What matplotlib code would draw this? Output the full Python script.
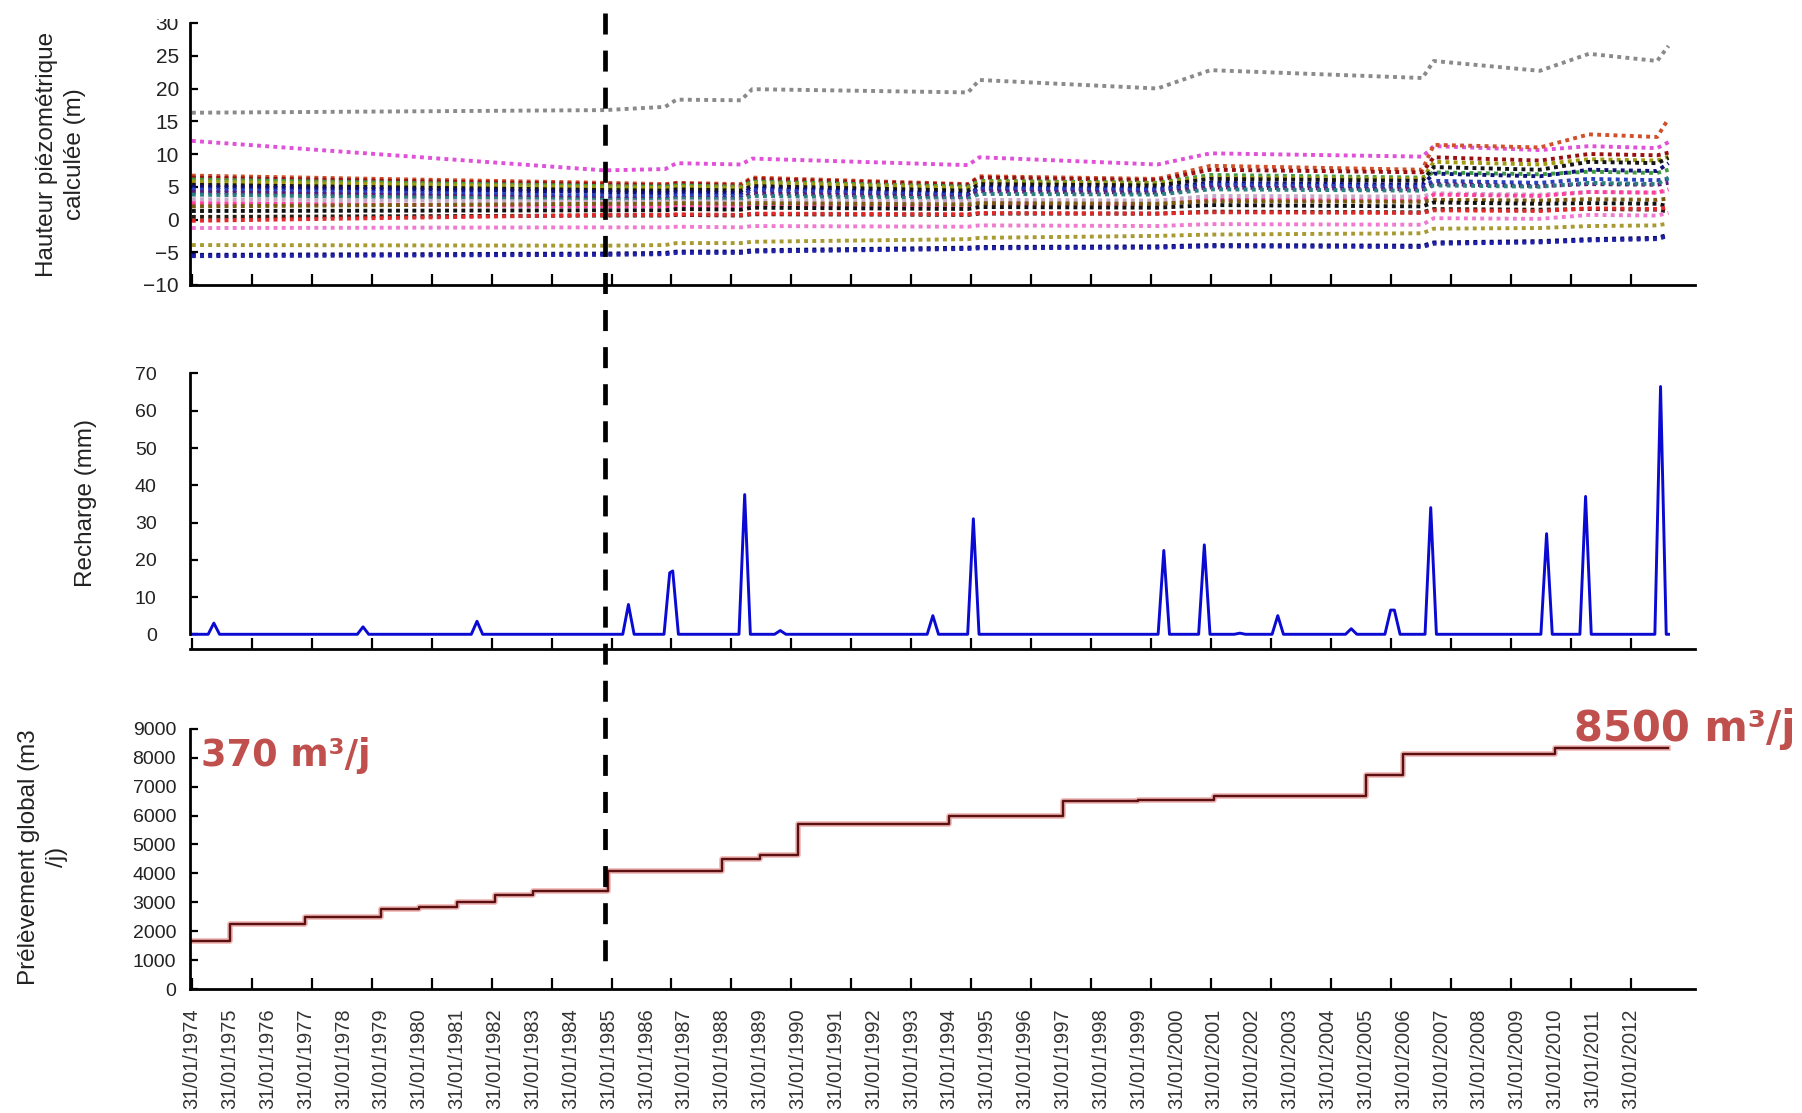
import numpy as np
import matplotlib
matplotlib.use("Agg")
import matplotlib.pyplot as plt
from matplotlib.lines import Line2D
from matplotlib.patches import Rectangle

plt.rcParams['font.family'] = ['Liberation Sans', 'DejaVu Sans']

# ---------------------------------------------------------------------------
# Time axis: years elapsed since 31/01/1974
# ---------------------------------------------------------------------------
label_years = list(range(1974, 2013))
date_labels = [f"31/01/{y}" for y in label_years]

# ---------------------------------------------------------------------------
# Computed piezometric heads (m) at the break dates of each simulation period
# ---------------------------------------------------------------------------
head_years = [0, 10.9, 12.5, 12.8, 14.5, 14.8, 20.5, 20.8, 25.5, 26.9,
              32.5, 32.8, 35.6, 36.9, 38.7, 39.0]

pz_gray    = [16.3, 16.7, 17.2, 18.3, 18.2, 19.9, 19.4, 21.3, 20.0, 22.8, 21.6, 24.2, 22.7, 25.3, 24.2, 26.5]
pz_magenta = [12.0, 7.5, 7.7, 8.6, 8.4, 9.3, 8.3, 9.5, 8.4, 10.1, 9.6, 11.2, 10.6, 11.2, 10.9, 11.8]
pz_orange  = [6.7, 5.6, 5.4, 5.6, 5.4, 6.4, 5.4, 6.6, 6.2, 8.2, 7.6, 11.4, 11.0, 13.0, 12.6, 15.4]
pz_darkred = [6.4, 5.4, 5.2, 5.5, 5.2, 6.2, 5.3, 6.4, 6.0, 7.6, 7.2, 9.5, 9.0, 10.0, 9.8, 10.2]
pz_green   = [6.1, 5.1, 5.0, 5.2, 5.0, 5.8, 5.0, 5.9, 5.6, 6.8, 6.4, 7.2, 6.9, 7.3, 7.1, 7.6]
pz_olive   = [5.8, 4.9, 4.8, 5.0, 4.8, 5.6, 4.8, 5.7, 5.5, 6.4, 6.2, 8.8, 8.4, 9.2, 9.0, 9.6]
pz_black1  = [5.3, 4.5, 4.4, 4.6, 4.4, 5.1, 4.4, 5.4, 5.2, 6.2, 5.9, 8.0, 7.6, 8.8, 8.6, 9.4]
pz_navy1   = [5.0, 4.2, 4.0, 4.2, 4.0, 4.8, 3.9, 4.9, 4.7, 5.6, 5.3, 7.0, 6.6, 7.6, 7.4, 8.6]
pz_blue1   = [4.6, 3.6, 3.5, 3.7, 3.6, 4.5, 3.7, 4.7, 4.5, 5.3, 5.0, 5.9, 5.6, 6.2, 6.0, 6.2]
pz_purple  = [4.2, 3.2, 3.1, 3.3, 3.2, 4.0, 3.4, 4.3, 4.1, 4.9, 4.6, 5.4, 5.1, 5.4, 5.3, 5.6]
pz_teal    = [3.8, 3.0, 3.0, 3.2, 3.1, 3.6, 3.2, 3.9, 3.8, 4.6, 4.4, 5.2, 5.0, 5.6, 5.4, 6.4]
pz_lilac   = [3.1, 2.7, 2.7, 2.8, 2.7, 2.9, 2.8, 3.0, 2.9, 3.6, 3.5, 4.0, 3.8, 4.2, 4.1, 4.4]
pz_pink    = [2.5, 2.0, 2.0, 2.1, 2.0, 2.2, 2.1, 2.4, 2.3, 3.0, 2.9, 3.8, 3.6, 4.2, 4.1, 4.6]
pz_brown   = [2.0, 2.4, 2.4, 2.5, 2.4, 2.5, 2.3, 2.5, 2.4, 2.8, 2.7, 3.0, 2.9, 3.1, 3.0, 3.2]
pz_black2  = [1.3, 1.4, 1.4, 1.6, 1.5, 1.8, 1.6, 1.9, 1.8, 2.2, 2.0, 2.6, 2.4, 2.5, 2.4, 2.0]
pz_black3  = [0.4, 0.6, 0.6, 0.7, 0.6, 0.8, 0.7, 0.9, 0.9, 1.2, 1.1, 1.6, 1.5, 1.6, 1.5, 1.2]
pz_red     = [-0.2, 0.7, 0.7, 0.8, 0.7, 0.9, 0.8, 1.0, 0.9, 1.1, 1.0, 1.4, 1.3, 1.7, 1.6, 1.9]
pz_rose    = [-1.3, -1.2, -1.2, -1.1, -1.2, -1.0, -1.1, -0.9, -1.0, -0.7, -0.8, 0.2, 0.1, 0.7, 0.6, 1.0]
pz_yellow  = [-3.9, -4.0, -3.9, -3.6, -3.6, -3.4, -3.0, -2.8, -2.5, -2.3, -2.1, -1.4, -1.3, -1.0, -0.9, -0.6]
pz_navy2   = [-5.4, -5.2, -5.1, -4.9, -4.9, -4.7, -4.3, -4.2, -4.1, -3.9, -4.0, -3.5, -3.3, -3.0, -2.8, -2.3]
pz_blue2   = [-5.6, -5.4, -5.3, -5.1, -5.1, -4.9, -4.5, -4.4, -4.3, -4.1, -4.2, -3.7, -3.5, -3.2, -3.0, -2.5]

head_series = [
    (pz_gray, '#8a8a8a'), (pz_magenta, '#e050d8'), (pz_orange, '#d0502a'),
    (pz_darkred, '#9a1010'), (pz_green, '#3f9a3f'), (pz_olive, '#a09a10'),
    (pz_black1, '#151515'), (pz_navy1, '#10107a'), (pz_blue1, '#2840c0'),
    (pz_purple, '#5a1a7a'), (pz_teal, '#2a7f80'), (pz_lilac, '#c8a8c8'),
    (pz_pink, '#ff3fa0'), (pz_brown, '#7a5a10'), (pz_black2, '#101010'),
    (pz_black3, '#2a1a10'), (pz_red, '#e02828'), (pz_rose, '#f07ad0'),
    (pz_yellow, '#a89a30'), (pz_navy2, '#0a0a6a'), (pz_blue2, '#2020a8'),
]

# ---------------------------------------------------------------------------
# Recharge events (mm): peak date (years since 1974) and peak value
# ---------------------------------------------------------------------------
recharge_years = [0.58, 4.52, 7.53, 11.53, 12.62, 12.70, 14.60, 15.54, 19.57,
                  20.64, 25.67, 26.74, 27.68, 28.68, 30.62, 31.66, 31.76,
                  32.72, 35.78, 36.81, 38.79]
recharge_mm = [3, 2, 3.5, 8, 16.5, 17, 37.5, 1, 5, 31, 22.5, 24, 0.3, 5, 1.5,
               6.5, 6.5, 34, 27, 37, 66.5]
series_end = 39.0

# ---------------------------------------------------------------------------
# Global abstraction (m3/j): value taken from each change date onwards
# ---------------------------------------------------------------------------
pump_years = [0, 1, 3, 5, 6, 7, 8, 9, 11, 14, 15, 16, 20, 23, 25, 27, 31, 32, 36, 39]
pump_m3 = [1680, 2250, 2500, 2780, 2840, 3000, 3260, 3410, 4070, 4490, 4650,
           5700, 5980, 6500, 6540, 6660, 7400, 8110, 8330, 8330]

# ---------------------------------------------------------------------------
# Figure and axes
# ---------------------------------------------------------------------------
FW, FH = 1802, 1113
fig = plt.figure(figsize=(FW / 100, FH / 100), dpi=100)
fig.patch.set_facecolor('white')

left = 190 / FW
width = 1505 / FW
ax1 = fig.add_axes([left, 1 - 285 / FH, width, 262 / FH])
ax2 = fig.add_axes([left, 1 - 649 / FH, width, 275.5 / FH])
ax3 = fig.add_axes([left, 1 - 989.3 / FH, width, 260.7 / FH])

XMIN, XMAX = -0.05, 39.7
tick_step = 19 / 12
tick_pos = np.arange(0, 38.01, tick_step)
text_col = '#222222'

for ax in (ax1, ax2, ax3):
    ax.set_xlim(XMIN, XMAX)
    for s in ('top', 'right'):
        ax.spines[s].set_visible(False)
    for s in ('left', 'bottom'):
        ax.spines[s].set_linewidth(2.0)
        ax.spines[s].set_color('black')
    ax.set_xticks(tick_pos)
    ax.set_xticklabels([])
    ax.tick_params(axis='x', which='major', direction='in', length=8, width=1.6)
    ax.tick_params(axis='y', which='major', direction='in', length=6, width=1.6,
                   labelcolor=text_col)

# --- Top: computed heads ---
for values, col in head_series:
    ax1.plot(head_years, values, color=col, lw=2.8, dashes=(1, 1.1))
ax1.set_ylim(-10, 30)
ax1.set_yticks(np.arange(-10, 31, 5))
ax1.tick_params(axis='y', labelsize=15, pad=8)
ax1.set_ylabel("Hauteur piézométrique\ncalculée (m)", fontsize=17.5,
               color=text_col, linespacing=1.35)
ax1.yaxis.label.set_va('center')
ax1.yaxis.set_label_coords(-0.0857, 0.5)

# --- Middle: recharge ---
rx, ry = [0.0], [0.0]
hw = 0.15
i = 0
while i < len(recharge_years):
    j = i
    while j + 1 < len(recharge_years) and recharge_years[j + 1] - recharge_years[j] < 0.2:
        j += 1
    rx.append(recharge_years[i] - hw)
    ry.append(0.0)
    for k in range(i, j + 1):
        rx.append(recharge_years[k])
        ry.append(recharge_mm[k])
    rx.append(recharge_years[j] + hw)
    ry.append(0.0)
    i = j + 1
rx.append(series_end)
ry.append(0.0)
ax2.plot(rx, ry, color='#0a0ad2', lw=2.1, solid_joinstyle='round')
ax2.set_ylim(-3.95, 70)
ax2.set_yticks(np.arange(0, 71, 10))
ax2.spines['left'].set_bounds(0, 70)
ax2.tick_params(axis='y', labelsize=14, pad=24)
ax2.set_ylabel("Recharge (mm)", fontsize=17.5, color=text_col)
ax2.yaxis.label.set_va('center')
ax2.yaxis.set_label_coords(-0.069, 0.53)

# --- Bottom: global abstraction ---
ax3.step(pump_years, pump_m3, where='post', color='#d9534f', lw=4.0, alpha=0.45)
ax3.step(pump_years, pump_m3, where='post', color='#5b1111', lw=1.7)
ax3.set_ylim(0, 9000)
ax3.set_yticks(np.arange(0, 9001, 1000))
ax3.tick_params(axis='y', labelsize=14, pad=10)
ax3.set_ylabel("Prélèvement global (m3\n/j)", fontsize=17.5, color=text_col,
               linespacing=1.35)
ax3.yaxis.label.set_va('center')
ax3.yaxis.set_label_coords(-0.0977, 0.507)

label_pos = [y - 1974 for y in label_years]
ax3.xaxis.remove_overlapping_locs = False
ax3.set_xticks(label_pos, minor=True)
ax3.set_xticklabels(date_labels, minor=True, rotation=90, fontsize=14.5,
                    color='#333333')
ax3.tick_params(axis='x', which='minor', length=0, pad=14)

# Start and end abstraction rates
ax3.text(0.24, 7700, "370 m³/j", fontsize=26.5, fontweight='bold',
         family='DejaVu Sans', color='#c0504d', ha='left', va='baseline',
         clip_on=False)
ax3.text(36.5, 8570, "8500 m³/j", fontsize=30, fontweight='bold',
         family='DejaVu Sans', color='#c0504d', ha='left', va='baseline',
         clip_on=False)

# White band along the top edge
fig.add_artist(Rectangle((0, 1 - 19 / FH), 1, 19 / FH, transform=fig.transFigure,
                         facecolor='white', edgecolor='none', zorder=5))

# Vertical dashed marker crossing the three panels
marker_year = 10.9
xd = fig.transFigure.inverted().transform(ax3.transData.transform((marker_year, 0)))[0]
fig.add_artist(Line2D([xd, xd], [1 - 13 / FH, 1 - 967 / FH], transform=fig.transFigure,
                      color='black', lw=3.4, dashes=(4.45, 3.4), zorder=6))

fig.savefig("out.png", dpi=100, facecolor='white')
